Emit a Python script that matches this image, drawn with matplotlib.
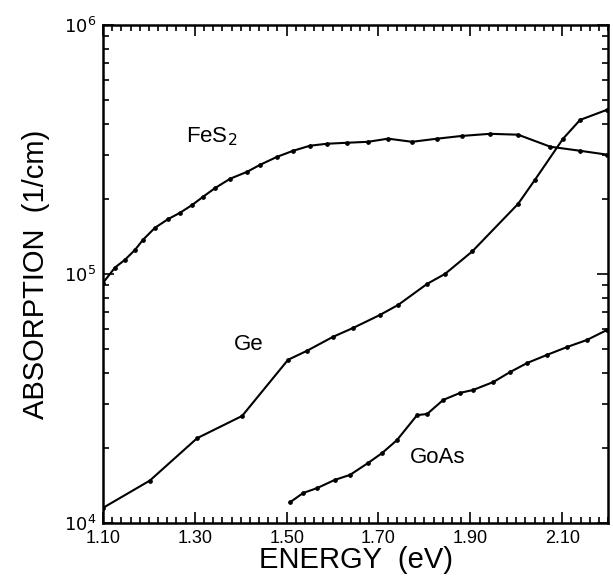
import matplotlib
matplotlib.use('Agg')
import matplotlib.pyplot as plt
from matplotlib.ticker import MultipleLocator, LogLocator, FixedLocator, NullFormatter

plt.rcParams['font.family'] = ['Liberation Sans', 'DejaVu Sans']

# photon energy (eV) and absorption coefficient (1/cm)
fes2_e = [1.10, 1.126, 1.148, 1.170, 1.187, 1.213, 1.242, 1.268, 1.294, 1.318,
          1.344, 1.377, 1.414, 1.442, 1.479, 1.514, 1.551, 1.588, 1.631, 1.677,
          1.721, 1.773, 1.828, 1.882, 1.943, 2.004, 2.074, 2.139, 2.198]
fes2_a = [9.2e4, 1.06e5, 1.14e5, 1.25e5, 1.37e5, 1.53e5, 1.66e5, 1.76e5, 1.89e5, 2.04e5,
          2.21e5, 2.41e5, 2.57e5, 2.74e5, 2.95e5, 3.12e5, 3.27e5, 3.33e5, 3.36e5, 3.39e5,
          3.49e5, 3.39e5, 3.49e5, 3.58e5, 3.65e5, 3.62e5, 3.24e5, 3.12e5, 3.01e5]

ge_e = [1.10, 1.202, 1.305, 1.403, 1.503, 1.544, 1.601, 1.645, 1.703, 1.743,
        1.806, 1.845, 1.904, 2.004, 2.041, 2.102, 2.139, 2.198]
ge_a = [1.15e4, 1.48e4, 2.19e4, 2.69e4, 4.52e4, 4.91e4, 5.59e4, 6.07e4, 6.84e4, 7.51e4,
        9.12e4, 1.0e5, 1.23e5, 1.91e5, 2.39e5, 3.49e5, 4.15e5, 4.56e5]

gaas_e = [1.507, 1.536, 1.566, 1.605, 1.638, 1.677, 1.708, 1.740, 1.784, 1.806,
          1.841, 1.878, 1.906, 1.950, 1.987, 2.024, 2.067, 2.111, 2.154, 2.198]
gaas_a = [1.21e4, 1.32e4, 1.38e4, 1.49e4, 1.56e4, 1.74e4, 1.91e4, 2.15e4, 2.71e4, 2.74e4,
          3.12e4, 3.33e4, 3.42e4, 3.68e4, 4.04e4, 4.39e4, 4.73e4, 5.09e4, 5.43e4, 5.96e4]

xticks = [1.10, 1.30, 1.50, 1.70, 1.90, 2.10]
xticklabels = ['1.10', '1.30', '1.50', '1.70', '1.90', '2.10']

fig = plt.figure(figsize=(6.13, 5.76), dpi=100)
ax = fig.add_axes([0.168, 0.092, 0.824, 0.865])

for e, a in [(fes2_e, fes2_a), (ge_e, ge_a), (gaas_e, gaas_a)]:
    ax.plot(e, a, color='black', lw=1.5, marker='o', ms=2.4)

ax.set_yscale('log')
ax.set_xlim(1.10, 2.20)
ax.set_ylim(1e4, 1e6)

ax.xaxis.set_major_locator(FixedLocator(xticks))
ax.set_xticklabels(xticklabels)
ax.xaxis.set_minor_locator(MultipleLocator(0.02))
ax.yaxis.set_minor_locator(LogLocator(base=10, subs=range(2, 10)))
ax.yaxis.set_minor_formatter(NullFormatter())
ax.set_yticks([1e4, 1e5, 1e6])
ax.set_yticklabels(['$10^{4}$', '$10^{5}$', '$10^{6}$'])

ax.tick_params(which='both', direction='in', top=True, right=True, labelsize=13, width=1.2)
ax.tick_params(which='major', length=8, pad=5)
ax.tick_params(which='minor', length=4)
for s in ax.spines.values():
    s.set_linewidth(1.8)

ax.set_xlabel('ENERGY  (eV)', fontsize=21, labelpad=-1)
ax.set_ylabel('ABSORPTION  (1/cm)', fontsize=21, labelpad=10)

ax.text(1.337, 3.55e5, 'FeS$_2$', fontsize=16, ha='center', va='center')
ax.text(1.418, 5.19e4, 'Ge', fontsize=16, ha='center', va='center')
ax.text(1.828, 1.84e4, 'GoAs', fontsize=16, ha='center', va='center')

fig.savefig('out.png', dpi=100)
